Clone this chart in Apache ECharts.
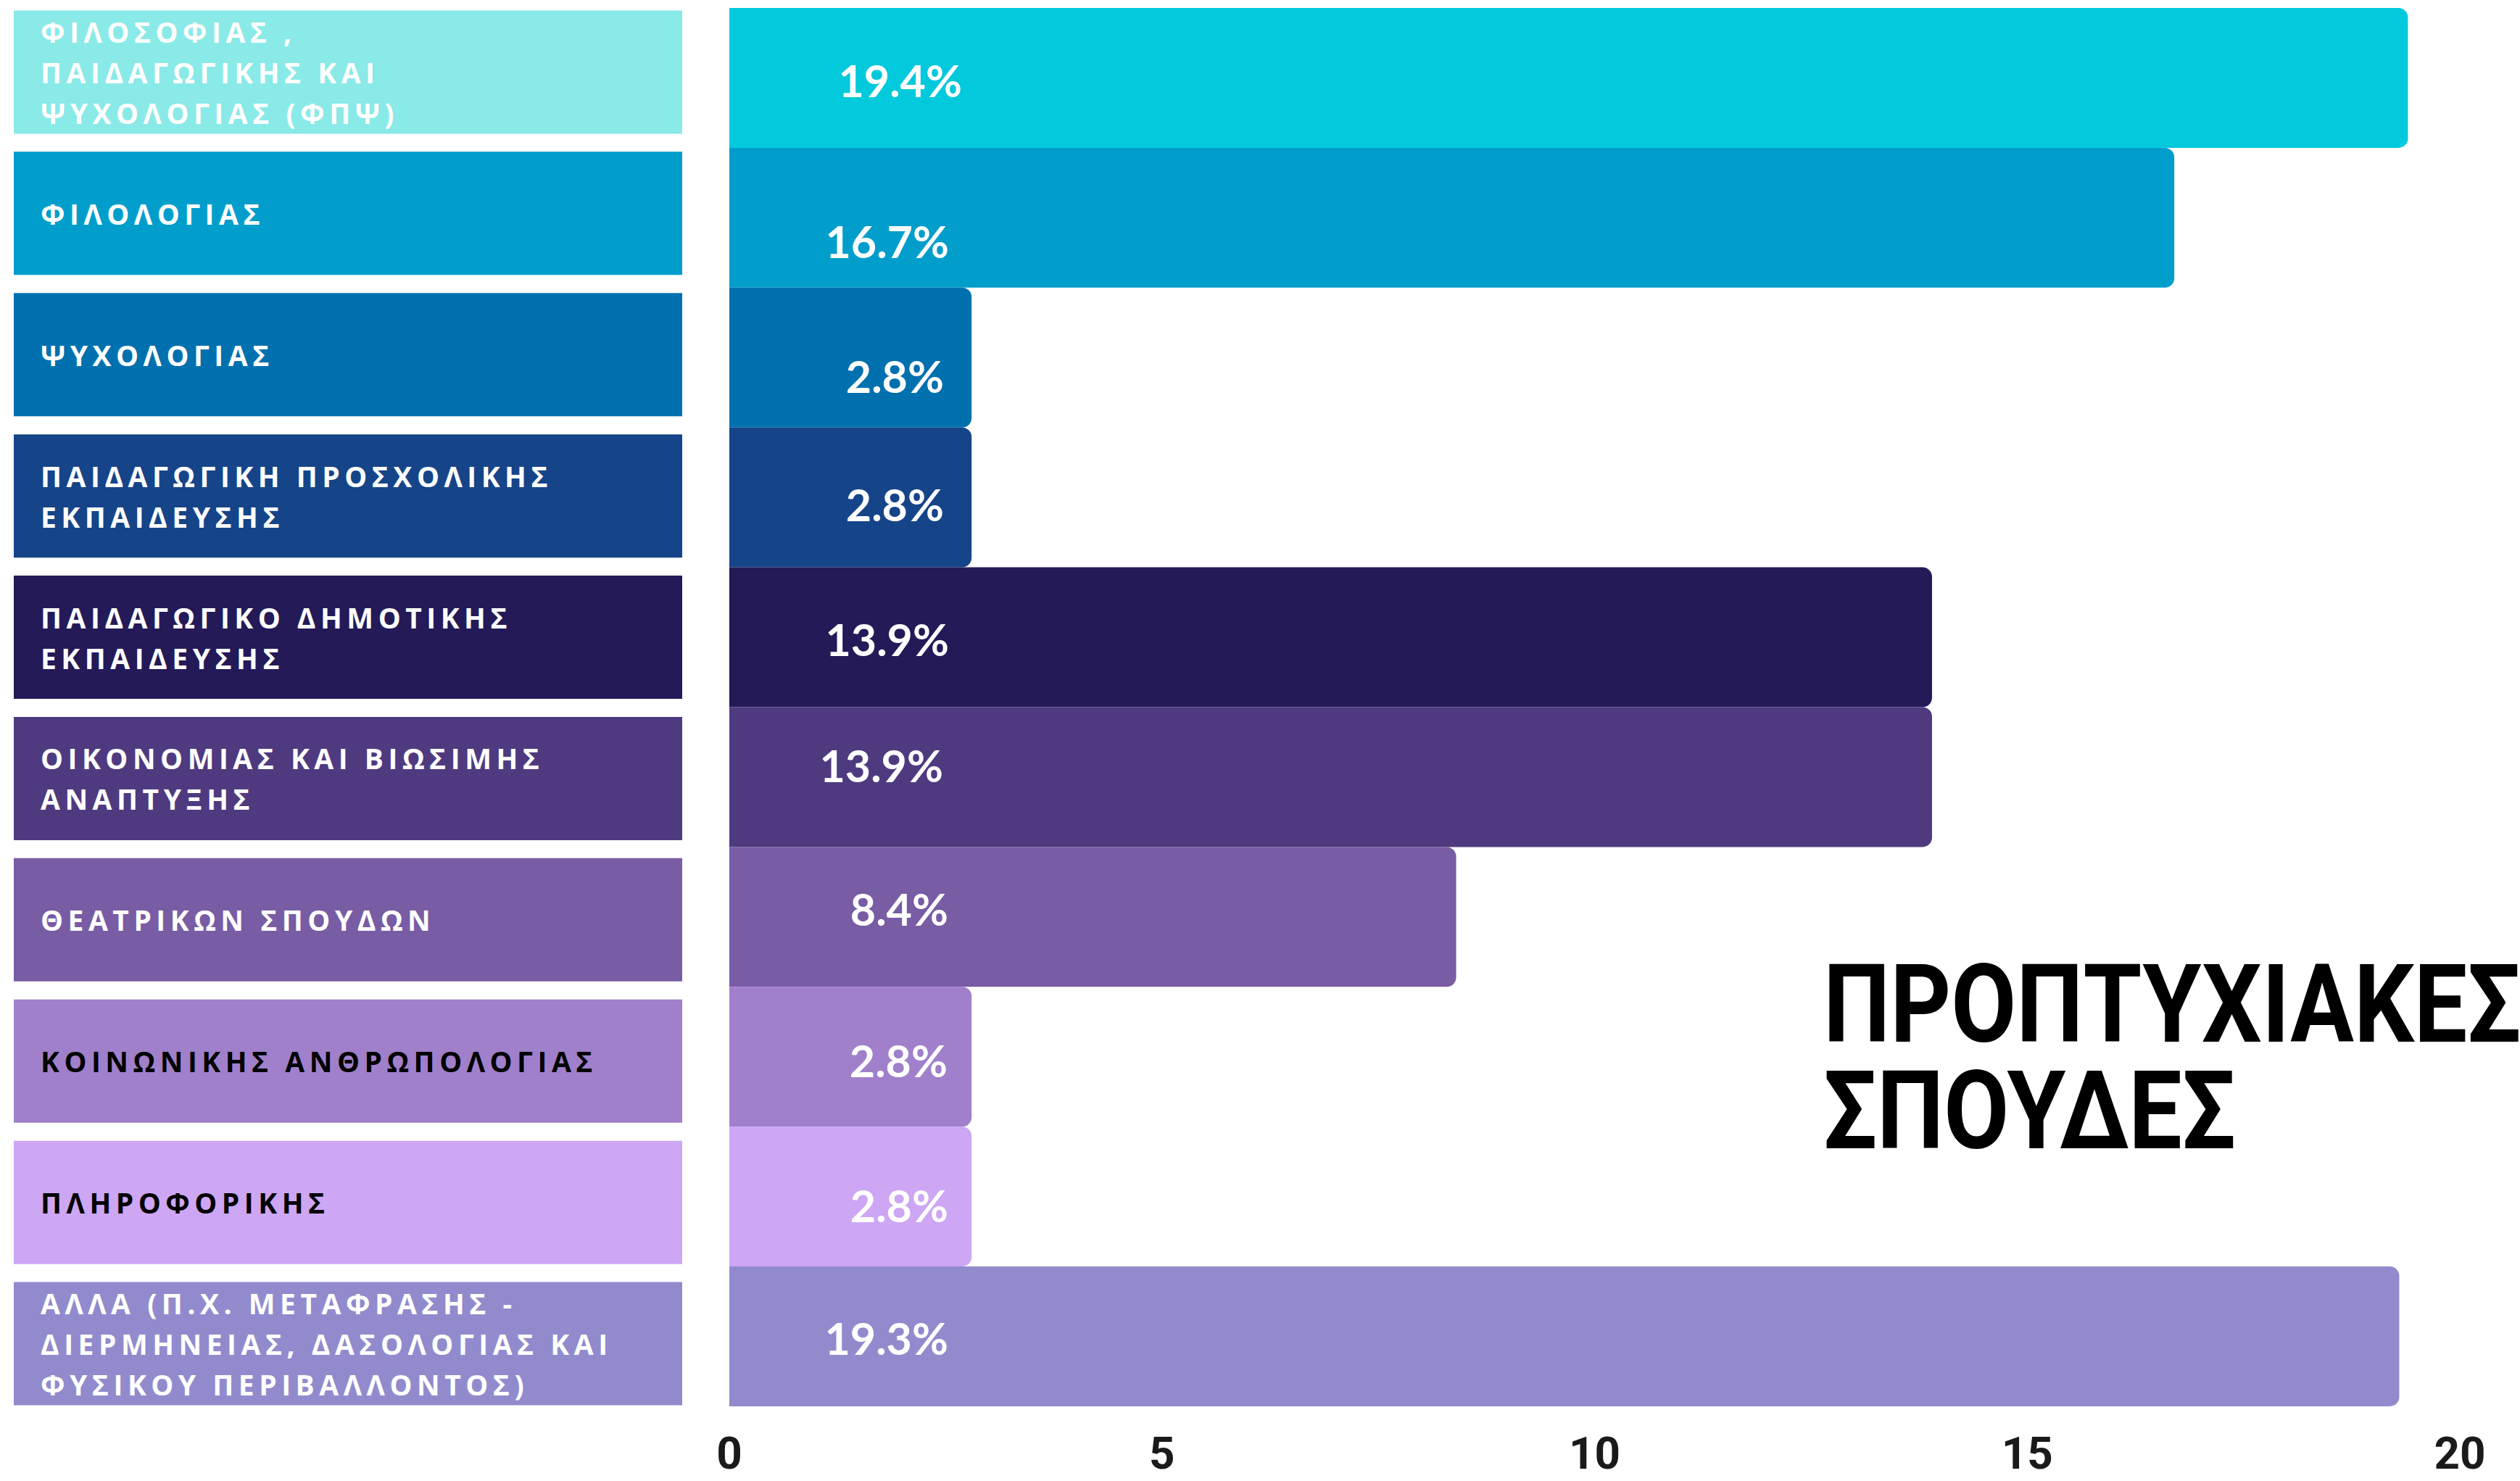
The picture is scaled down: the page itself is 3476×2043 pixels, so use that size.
<!DOCTYPE html>
<html>
<head>
<meta charset="utf-8">
<title>Προπτυχιακές σπουδές</title>
<script src="https://cdn.jsdelivr.net/npm/echarts@6/dist/echarts.min.js"></script>
<style>
  html, body { margin: 0; padding: 0; background: #fff; }
  #main { width: 3476px; height: 2043px; }
  /* αραιά γράμματα μόνο στα ονόματα των τμημάτων */
  #main text[style*="Open Sans"] { letter-spacing: 6.5px; }
</style>
</head>
<body>
<div id="main"></div>
<script>
// δεδομένα
const categories = [
  'ΦΙΛΟΣΟΦΙΑΣ ,\nΠΑΙΔΑΓΩΓΙΚΗΣ ΚΑΙ\nΨΥΧΟΛΟΓΙΑΣ (ΦΠΨ)',
  'ΦΙΛΟΛΟΓΙΑΣ',
  'ΨΥΧΟΛΟΓΙΑΣ',
  'ΠΑΙΔΑΓΩΓΙΚΗ ΠΡΟΣΧΟΛΙΚΗΣ\nΕΚΠΑΙΔΕΥΣΗΣ',
  'ΠΑΙΔΑΓΩΓΙΚΟ ΔΗΜΟΤΙΚΗΣ\nΕΚΠΑΙΔΕΥΣΗΣ',
  'ΟΙΚΟΝΟΜΙΑΣ ΚΑΙ ΒΙΩΣΙΜΗΣ\nΑΝΑΠΤΥΞΗΣ',
  'ΘΕΑΤΡΙΚΩΝ ΣΠΟΥΔΩΝ',
  'ΚΟΙΝΩΝΙΚΗΣ ΑΝΘΡΩΠΟΛΟΓΙΑΣ',
  'ΠΛΗΡΟΦΟΡΙΚΗΣ',
  'ΑΛΛΑ (Π.Χ. ΜΕΤΑΦΡΑΣΗΣ -\nΔΙΕΡΜΗΝΕΙΑΣ, ΔΑΣΟΛΟΓΙΑΣ ΚΑΙ\nΦΥΣΙΚΟΥ ΠΕΡΙΒΑΛΛΟΝΤΟΣ)'
];
const values = [19.4, 16.7, 2.8, 2.8, 13.9, 13.9, 8.4, 2.8, 2.8, 19.3];
const axisMin = 0;
const axisMax = 20;
const axisStep = 5;
const titleText = 'ΠΡΟΠΤΥΧΙΑΚΕΣ\nΣΠΟΥΔΕΣ';

// χρώματα
const barColors = ['#02C9DC', '#019ECC', '#0070AE', '#164488', '#241A58',
  '#4F3A80', '#785CA4', '#A080CA', '#CDA6F4', '#918BCD'];
const boxColors = ['#8AEAE8', '#019ECC', '#0070AE', '#164488', '#241A58',
  '#4F3A80', '#785CA4', '#A080CA', '#CDA6F4', '#918BCD'];
const boxTextColors = ['#fff', '#fff', '#fff', '#fff', '#fff',
  '#fff', '#fff', '#000', '#000', '#fff'];
// μικρές μετατοπίσεις των ποσοστών όπως στο πρωτότυπο [dx, dy]
const labelNudge = [[21, 3], [3, 32], [-4, 25], [-4, 9], [3, 2],
  [-5, -16], [2, -11], [1, 5], [2, 12], [2, 2]];

const myChart = echarts.init(document.getElementById('main'), null, {renderer: 'svg'});

const option = {
  backgroundColor: '#fff',
  animation: false,
  grid: [
    // μπάρες
    {left: 1006, right: 83, top: 11, bottom: 103, outerBoundsMode: 'none'},
    // κουτιά με τα ονόματα
    {left: 19, right: 2535, top: 2, bottom: 92, outerBoundsMode: 'none'}
  ],
  xAxis: [
    {
      gridIndex: 0,
      type: 'value',
      min: axisMin,
      max: axisMax,
      interval: axisStep,
      axisLine: {show: false},
      axisTick: {show: false},
      splitLine: {show: false},
      axisLabel: {
        margin: 64,
        verticalAlign: 'middle',
        lineHeight: 46,
        color: '#1a1a1a',
        fontFamily: 'Roboto',
        fontWeight: 'bold',
        fontSize: 62
      }
    },
    {gridIndex: 1, type: 'value', min: 0, max: 1, show: false}
  ],
  yAxis: [
    {gridIndex: 0, type: 'category', data: categories, inverse: true, show: false},
    {gridIndex: 1, type: 'category', data: categories, inverse: true, show: false}
  ],
  series: [
    {
      type: 'bar',
      xAxisIndex: 0,
      yAxisIndex: 0,
      barCategoryGap: '0%',
      data: values.map((v, i) => ({
        value: v,
        itemStyle: {color: barColors[i], borderRadius: [0, 13, 13, 0]},
        label: {offset: labelNudge[i]}
      })),
      label: {
        show: true,
        position: [300, '50%'],
        align: 'right',
        verticalAlign: 'middle',
        color: '#fff',
        fontFamily: 'Lato',
        fontWeight: 'bold',
        fontSize: 61,
        formatter: p => p.value.toFixed(1) + '%'
      }
    },
    {
      type: 'bar',
      xAxisIndex: 1,
      yAxisIndex: 1,
      barWidth: 170,
      silent: true,
      data: categories.map((c, i) => ({
        value: 1,
        itemStyle: {color: boxColors[i]},
        label: {color: boxTextColors[i]}
      })),
      label: {
        show: true,
        position: 'insideLeft',
        distance: 37,
        formatter: '{b}',
        fontFamily: 'Open Sans',
        fontWeight: 'bold',
        fontSize: 39,
        lineHeight: 56
      }
    }
  ],
  graphic: [
    {
      type: 'text',
      x: 2515,
      y: 1459,
      scaleX: 0.87,
      style: {
        text: titleText,
        fill: '#000',
        font: 'bold 150px Roboto',
        lineHeight: 147,
        textAlign: 'left',
        textVerticalAlign: 'middle'
      }
    }
  ]
};

myChart.setOption(option);
window.addEventListener('resize', function () {
  myChart.resize();
});
</script>
</body>
</html>
